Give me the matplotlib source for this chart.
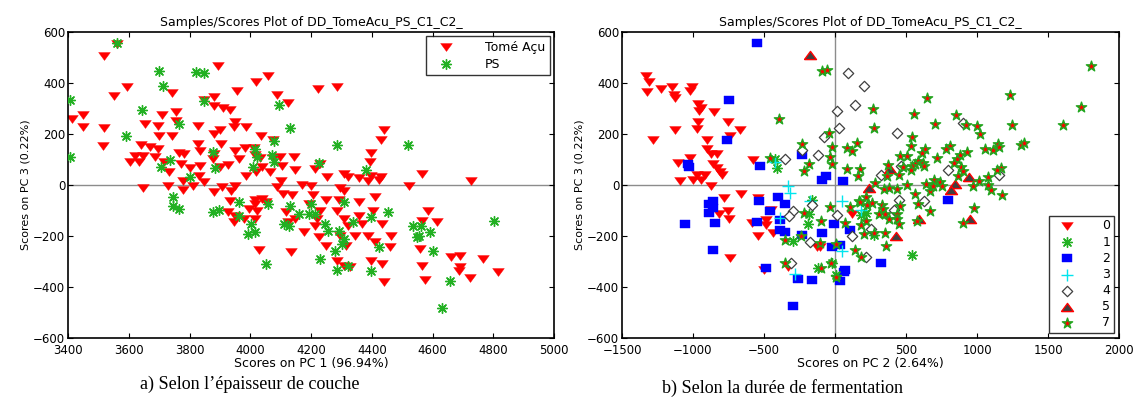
import matplotlib
matplotlib.use("Agg")
import matplotlib.pyplot as plt
import numpy as np

# ---------------- Left panel data (PC1 vs PC3) ----------------
tome_x = [3520,3561,3552,3595,3412,3450,3450,3520,3514,3894,4060,4019,3956,3741,4223,4285,3882,3848,3880,3910,
          3932,4088,4124,3756,3708,3950,3946,3986,3900,3882,3653,3695,3828,3756,3699,3741,4037,4075,3904,3828,
          3836,3639,3669,3696,3621,3603,3633,3648,3688,3717,3732,3765,3783,3771,3801,3836,3832,3882,3878,3900,
          3926,3950,3962,3982,4012,4016,4031,3986,4019,4064,4076,4097,4105,4145,4147,4040,4100,4088,4213,4231,
          4253,4309,4321,4357,4387,4423,4399,4440,4432,4399,4393,4429,4566,4524,4727,4297,4309,4171,4201,3648,
          3729,3777,3780,3813,3848,3882,3908,3938,3950,4205,4250,4292,4411,4040,4016,4109,4139,3932,
          3926,3950,3947,3978,3996,4016,4022,4016,4052,4028,4117,4123,4147,4177,4135,4195,4231,4219,4213,4225,
          4249,4285,4309,4321,4297,4315,4285,4309,4327,4357,4369,4345,4387,4411,4405,4435,4465,4459,4399,4435,
          4441,4560,4566,4576,4584,4566,4614,4662,4690,4692,4686,4722,4767,4815,4357]
tome_y = [507,553,350,386,259,274,229,222,152,468,429,403,367,362,376,386,345,334,310,302,
          295,354,322,285,276,248,229,229,216,200,239,233,233,250,193,191,191,178,161,161,
          135,157,148,141,115,89,91,115,108,89,52,124,122,82,65,73,37,122,102,72,
          80,135,102,144,144,119,106,37,50,50,106,111,73,108,59,69,17,-9,63,82,
          33,43,30,27,17,21,37,216,176,124,89,30,43,-3,17,-13,-22,0,-3,-13,
          -3,17,-20,-3,10,-26,-9,-22,-3,-39,-57,-57,-48,-55,-57,-35,-39,-61,
          -107,-120,-146,-133,-94,-75,-101,-133,-68,-255,-107,-146,-133,-186,-264,-75,-101,-133,-160,-203,
          -238,-101,-133,-160,-199,-238,-297,-317,-323,-120,-153,-199,-199,-225,-101,-153,-199,-245,-297,-310,
          -382,-251,-316,-373,-101,-140,-146,-284,-277,-323,-336,-365,-290,-343,-68]

ps_x = [3561,3406,3406,3701,3713,3821,3848,3848,3645,3591,3765,4094,4130,4079,4287,4518,4381,4225,3878,4073,
        4079,4016,4022,4010,3705,3735,3801,3884,3747,
        3747,3765,3876,3896,3962,3962,4004,3992,4016,4058,4052,4131,4111,4129,4159,4195,4201,4213,4231,4247,
        4255,4279,4291,4303,4309,4309,4321,4285,4339,4399,4399,4423,4453,4537,4549,4555,4561,4591,4603,4657,
        4630,4802]
ps_y = [555,335,111,446,389,444,439,331,294,191,239,312,222,174,158,158,59,85,131,119,
        89,141,108,72,69,98,33,65,-48,
        -81,-94,-107,-98,-68,-120,-153,-192,-186,-75,-310,-81,-153,-160,-114,-114,-75,-114,-290,-153,
        -179,-258,-182,-232,-212,-68,-317,-333,-146,-127,-336,-245,-107,-160,-203,-199,-160,-186,-258,-375,
        -482,-143]

# ---------------- Right panel data (PC2 vs PC3), by fermentation duration ----------------
d0_x = [-1334,-1311,-1321,-1227,-1150,-1133,-1125,-1010,-1023,-965,-947,-955,-850,-756,-672,-965,-973,-1125,-1285,-904,
        -904,-871,-832,-1023,-1107,-858,-832,-807,-794,-738,-578,-1094,-1003,-947,-914,-876,-975,-781,-662,-539,
        -753,-745,-585,-539,-489,-489,-451,-438,-738,-501,-331,-107,122,-870,-819,-130]
d0_y = [426,405,363,376,386,353,343,386,370,317,301,291,288,249,216,249,221,214,175,175,
        142,122,120,107,87,83,67,50,41,192,97,14,21,21,38,-3,41,-51,-36,-51,
        -102,-132,-148,-200,-138,-158,-99,-190,-288,-333,-320,-242,-115,-92,-112,-245]

d1_x = [-420,-410,-183,-191,-293,542,219,186,275,8,-18,-120,-160]
d1_y = [100,65,-112,-151,-219,-275,-109,-118,-197,-353,-307,-327,-60]

d2_x = [-547,-748,-763,-1036,-1028,-527,-234,-61,-89,53,-400,-858,-532,797,-1059,-885,-890,-860,-847,-860,
        -456,-552,-387,-387,-354,-349,-234,-94,-5,-23,33,109,-489,-298,-259,-165,71,64,33,321]
d2_y = [558,334,175,84,71,74,116,34,21,14,-47,-64,-64,-58,-151,-73,-109,-92,-148,-255,
        -102,-144,-138,-177,-183,-73,-197,-190,-154,-242,-236,-177,-327,-476,-368,-372,-333,-343,-378,-304]

d3_x = [-425,-328,-316,-176,46,-387,46,-285,186]
d3_y = [91,-5,-32,-62,-62,-131,-258,-349,-99]

d4_x = [89,201,143,15,25,-79,440,-120,-229,-354,898,466,321,797,1153,453,624,-163,-298,-323,
        15,-176,122,216,-310,415,250]
d4_y = [440,390,313,291,225,188,203,117,137,100,245,76,41,57,38,-58,-62,-80,-102,-122,
        -119,-222,-200,-281,-304,-99,-174]

d5_x = [-178,389,237,842,814,944,593,433,949]
d5_y = [511,61,-12,4,-18,32,-135,-200,-132]

d7_x = [-392,-94,-53,-229,-43,-456,-183,-221,-23,-38,-18,84,122,153,84,178,160,267,275,555,
        649,702,852,923,1000,1023,1229,1247,1603,1730,1802,1313,1331,1056,1115,1148,1153,1171,1140,1013,
        1077,1077,1102,1178,970,807,781,930,878,861,836,887,900,869,720,631,613,539,532,456,
        506,583,565,545,532,621,626,478,453,372,364,283,344,377,440,506,644,695,740,669,
        750,687,560,168,219,-36,-221,-99,71,109,173,224,262,330,338,308,351,377,181,216,
        206,275,351,440,435,453,458,585,669,578,898,980,359,143,186,-239,-107,8,-349,-354,
        -102,-31,8]
d7_y = [258,449,451,162,203,104,83,54,150,111,83,146,133,166,64,61,34,297,222,278,
        341,241,275,234,232,199,353,236,234,304,467,157,163,142,139,162,149,67,57,14,
        32,1,-21,-38,-3,153,142,130,116,100,87,70,54,34,104,142,126,190,153,113,
        113,96,83,74,58,87,74,70,38,80,34,8,-16,-12,-16,1,4,21,11,-25,
        -5,-5,-36,-62,-47,-86,-108,-141,-148,-86,-67,-80,-70,-80,-93,-112,-112,-132,-158,-141,
        -193,-190,-190,-112,-132,-154,-83,-76,-102,-141,-148,-89,-239,-255,-284,-200,-229,-232,-216,-307,
        -327,-307,-359]

left_xticks = [3400,3600,3800,4000,4200,4400,4600,4800,5000]
right_xticks = [-1500,-1000,-500,0,500,1000,1500,2000]
yticks = [-600,-400,-200,0,200,400,600]
legend_left = ["Tomé Açu", "PS"]
legend_right = ["0", "1", "2", "3", "4", "5", "7"]

title = "Samples/Scores Plot of DD_TomeAcu_PS_C1_C2_"
ylabel = "Scores on PC 3 (0.22%)"

plt.rcParams['font.family'] = ['DejaVu Sans']

W, H = 1141, 399
fig = plt.figure(figsize=(W/100, H/100), dpi=100)

def px_axes(l, r, t, b):
    return fig.add_axes([l/W, 1-b/H, (r-l)/W, (b-t)/H])

RED = '#ff0000'
GREEN = '#22b022'
ast = (8, 2, 0)
# horizontally wide markers (the reference image is stretched sideways)
tri_down = [(-1, 0.68), (1, 0.68), (0, -0.68), (-1, 0.68)]
tri_up = [(-1, -0.68), (1, -0.68), (0, 0.68), (-1, -0.68)]
rect = [(-1, -0.8), (1, -0.8), (1, 0.8), (-1, 0.8), (-1, -0.8)]

def style(ax):
    ax.tick_params(direction='in', top=True, right=True, length=3.5, width=0.8, labelsize=8.5, pad=2)
    ax.tick_params(axis='x', pad=4.5)
    for s in ax.spines.values():
        s.set_linewidth(1.2)
    ax.set_yticks(yticks)
    ax.set_ylim(-600, 600)
    ax.set_title(title, fontsize=9, pad=4)
    ax.set_ylabel(ylabel, fontsize=8, labelpad=2)
    ax.axhline(0, color='#8c8c8c', lw=1.0, zorder=0)

# ---- left ----
ax1 = px_axes(68, 554, 32, 338)
style(ax1)
ax1.scatter(tome_x, tome_y, marker=tri_down, s=70, c=RED, edgecolors=RED, linewidths=0.3, label=legend_left[0], zorder=2)
ax1.scatter(ps_x, ps_y, marker=ast, s=50, c=GREEN, linewidths=1.0, label=legend_left[1], zorder=3)
ax1.set_xlim(3400, 5000)
ax1.set_xticks(left_xticks)
ax1.set_xlabel("Scores on PC 1 (96.94%)", fontsize=9, labelpad=0)
leg1 = ax1.legend(loc='upper right', fontsize=9, frameon=True, fancybox=False, edgecolor='black',
                  borderaxespad=0.35, handletextpad=1.8, borderpad=0.35, labelspacing=0.3,
                  handlelength=2.6)
leg1.get_frame().set_linewidth(1.0)

# ---- right ----
ax2 = px_axes(622, 1119, 32, 338)
style(ax2)
ax2.axvline(0, color='#8c8c8c', lw=1.0, zorder=0)
ax2.scatter(d0_x, d0_y, marker=tri_down, s=70, c=RED, edgecolors=RED, linewidths=0.3, label=legend_right[0], zorder=2)
ax2.scatter(d1_x, d1_y, marker=ast, s=50, c=GREEN, linewidths=1.0, label=legend_right[1], zorder=3)
ax2.scatter(d2_x, d2_y, marker=rect, s=60, c='#0000ff', edgecolors='#0000ff', linewidths=0.3, label=legend_right[2], zorder=2)
ax2.scatter(d3_x, d3_y, marker='+', s=65, c='#00e5ee', linewidths=1.0, label=legend_right[3], zorder=3)
ax2.scatter(d4_x, d4_y, marker='D', s=28, facecolors='white', edgecolors='#404040', linewidths=0.9, label=legend_right[4], zorder=3)
ax2.scatter(d5_x, d5_y, marker=tri_up, s=75, facecolors='#404040', edgecolors=RED, linewidths=1.0, label=legend_right[5], zorder=3)
ax2.scatter(d7_x, d7_y, marker='*', s=60, facecolors=RED, edgecolors='#1fa81f', linewidths=1.0, label=legend_right[6], zorder=4)
ax2.set_xlim(-1500, 2000)
ax2.set_xticks(right_xticks)
ax2.set_xlabel("Scores on PC 2 (2.64%)", fontsize=9, labelpad=0)
leg2 = ax2.legend(loc='lower right', fontsize=9, frameon=True, fancybox=False, edgecolor='black',
                  borderaxespad=0.4, handletextpad=1.6, borderpad=0.3, labelspacing=0.25,
                  handlelength=2.4, markerfirst=True)
leg2.get_frame().set_linewidth(1.0)

# captions
fig.text(250/W, 1-384/H, "a) Selon l’épaisseur de couche", ha='center', va='center',
         fontsize=13, family=['Liberation Serif', 'DejaVu Serif'])
fig.text(783/W, 1-388/H, "b) Selon la durée de fermentation", ha='center', va='center',
         fontsize=13, family=['Liberation Serif', 'DejaVu Serif'])

fig.savefig("out.png", dpi=100)
